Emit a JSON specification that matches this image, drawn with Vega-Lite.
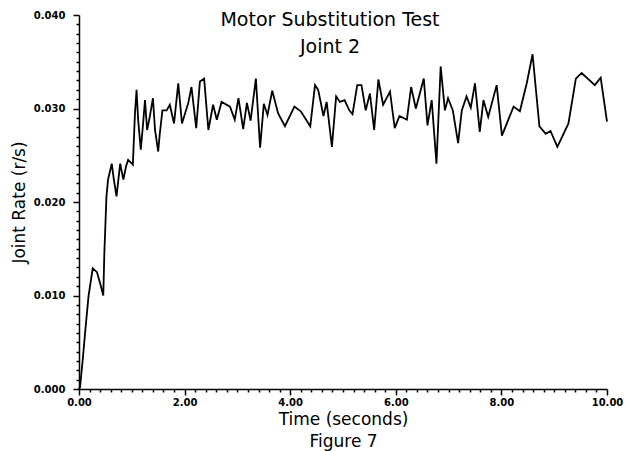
{
  "$schema": "https://vega.github.io/schema/vega-lite/v6.json",
  "width": 528,
  "height": 374,
  "autosize": "none",
  "padding": {"left": 79, "top": 15, "right": 23, "bottom": 62},
  "background": "white",
  "title": {
    "text": ["Motor Substitution Test", "Joint 2"],
    "font": "DejaVu Sans",
    "fontSize": 19,
    "fontWeight": "normal",
    "color": "black",
    "lineHeight": 27,
    "baseline": "alphabetic",
    "offset": -62,
    "dx": -13,
    "anchor": "middle"
  },
  "data": {
    "values": [
      {"t": 0.00, "v": 0.0000}, {"t": 0.02, "v": 0.0002}, {"t": 0.07, "v": 0.0031}, {"t": 0.12, "v": 0.0063},
      {"t": 0.18, "v": 0.0099}, {"t": 0.26, "v": 0.0129}, {"t": 0.34, "v": 0.0125}, {"t": 0.40, "v": 0.0113},
      {"t": 0.46, "v": 0.0100}, {"t": 0.48, "v": 0.0145}, {"t": 0.52, "v": 0.0206}, {"t": 0.55, "v": 0.0224},
      {"t": 0.62, "v": 0.0241}, {"t": 0.66, "v": 0.0224}, {"t": 0.71, "v": 0.0206}, {"t": 0.78, "v": 0.0241},
      {"t": 0.84, "v": 0.0224}, {"t": 0.89, "v": 0.0238}, {"t": 0.93, "v": 0.0245}, {"t": 1.02, "v": 0.0240},
      {"t": 1.06, "v": 0.0295}, {"t": 1.09, "v": 0.0320}, {"t": 1.12, "v": 0.0288}, {"t": 1.17, "v": 0.0256},
      {"t": 1.22, "v": 0.0288}, {"t": 1.25, "v": 0.0309}, {"t": 1.29, "v": 0.0277}, {"t": 1.34, "v": 0.0291},
      {"t": 1.40, "v": 0.0311}, {"t": 1.44, "v": 0.0277}, {"t": 1.50, "v": 0.0254}, {"t": 1.53, "v": 0.0273},
      {"t": 1.58, "v": 0.0298}, {"t": 1.66, "v": 0.0298}, {"t": 1.72, "v": 0.0304}, {"t": 1.80, "v": 0.0284},
      {"t": 1.88, "v": 0.0327}, {"t": 1.95, "v": 0.0284}, {"t": 2.07, "v": 0.0306}, {"t": 2.13, "v": 0.0323},
      {"t": 2.22, "v": 0.0279}, {"t": 2.29, "v": 0.0329}, {"t": 2.37, "v": 0.0332}, {"t": 2.45, "v": 0.0277},
      {"t": 2.54, "v": 0.0304}, {"t": 2.61, "v": 0.0288}, {"t": 2.70, "v": 0.0307}, {"t": 2.86, "v": 0.0302},
      {"t": 2.95, "v": 0.0288}, {"t": 3.02, "v": 0.0311}, {"t": 3.11, "v": 0.0278}, {"t": 3.18, "v": 0.0306},
      {"t": 3.25, "v": 0.0287}, {"t": 3.35, "v": 0.0332}, {"t": 3.43, "v": 0.0258}, {"t": 3.50, "v": 0.0305},
      {"t": 3.57, "v": 0.0293}, {"t": 3.66, "v": 0.0319}, {"t": 3.77, "v": 0.0295}, {"t": 3.90, "v": 0.0281},
      {"t": 4.08, "v": 0.0302}, {"t": 4.20, "v": 0.0297}, {"t": 4.38, "v": 0.0281}, {"t": 4.47, "v": 0.0325},
      {"t": 4.53, "v": 0.0320}, {"t": 4.63, "v": 0.0292}, {"t": 4.69, "v": 0.0307}, {"t": 4.79, "v": 0.0259},
      {"t": 4.87, "v": 0.0313}, {"t": 4.94, "v": 0.0307}, {"t": 5.03, "v": 0.0309}, {"t": 5.12, "v": 0.0298},
      {"t": 5.18, "v": 0.0294}, {"t": 5.27, "v": 0.0325}, {"t": 5.35, "v": 0.0325}, {"t": 5.43, "v": 0.0298},
      {"t": 5.51, "v": 0.0316}, {"t": 5.59, "v": 0.0277}, {"t": 5.67, "v": 0.0331}, {"t": 5.76, "v": 0.0304},
      {"t": 5.89, "v": 0.0318}, {"t": 5.98, "v": 0.0279}, {"t": 6.07, "v": 0.0292}, {"t": 6.21, "v": 0.0288},
      {"t": 6.29, "v": 0.0323}, {"t": 6.38, "v": 0.0300}, {"t": 6.53, "v": 0.0332}, {"t": 6.60, "v": 0.0282},
      {"t": 6.68, "v": 0.0309}, {"t": 6.77, "v": 0.0241}, {"t": 6.85, "v": 0.0345}, {"t": 6.93, "v": 0.0298},
      {"t": 6.99, "v": 0.0311}, {"t": 7.08, "v": 0.0298}, {"t": 7.18, "v": 0.0263}, {"t": 7.25, "v": 0.0298},
      {"t": 7.34, "v": 0.0313}, {"t": 7.42, "v": 0.0301}, {"t": 7.50, "v": 0.0327}, {"t": 7.59, "v": 0.0275},
      {"t": 7.66, "v": 0.0309}, {"t": 7.75, "v": 0.0291}, {"t": 7.91, "v": 0.0325}, {"t": 8.01, "v": 0.0271},
      {"t": 8.23, "v": 0.0302}, {"t": 8.35, "v": 0.0297}, {"t": 8.48, "v": 0.0327}, {"t": 8.59, "v": 0.0358},
      {"t": 8.72, "v": 0.0281}, {"t": 8.84, "v": 0.0273}, {"t": 8.93, "v": 0.0276}, {"t": 9.06, "v": 0.0259},
      {"t": 9.27, "v": 0.0284}, {"t": 9.41, "v": 0.0332}, {"t": 9.52, "v": 0.0338}, {"t": 9.77, "v": 0.0325},
      {"t": 9.88, "v": 0.0333}, {"t": 10.00, "v": 0.0286}
    ]
  },
  "mark": {"type": "line", "color": "black", "strokeWidth": 1.8, "interpolate": "linear"},
  "encoding": {
    "x": {
      "field": "t",
      "type": "quantitative",
      "scale": {"domain": [0, 10], "nice": false, "zero": false},
      "axis": {
        "title": ["Time (seconds)", "Figure 7"],
        "titleLineHeight": 22,
        "titlePadding": 4,
        "titleFontSize": 17,
        "values": [0, 0.2, 0.4, 0.6, 0.8, 1, 1.2, 1.4, 1.6, 1.8, 2, 2.2, 2.4, 2.6, 2.8, 3, 3.2, 3.4, 3.6, 3.8, 4, 4.2, 4.4, 4.6, 4.8, 5, 5.2, 5.4, 5.6, 5.8, 6, 6.2, 6.4, 6.6, 6.8, 7, 7.2, 7.4, 7.6, 7.8, 8, 8.2, 8.4, 8.6, 8.8, 9, 9.2, 9.4, 9.6, 9.8, 10],
        "labelExpr": "abs(datum.value - round(datum.value/2)*2) < 0.001 ? format(datum.value, '.2f') : ''",
        "tickSize": {"condition": {"test": "abs(datum.value - round(datum.value/2)*2) < 0.001", "value": 6}, "value": 3},
        "labelPadding": 2,
        "labelOverlap": false,
        "labelFlush": false
      }
    },
    "y": {
      "field": "v",
      "type": "quantitative",
      "scale": {"domain": [0, 0.04], "nice": false},
      "axis": {
        "title": "Joint Rate (r/s)",
        "titlePadding": 5,
        "titleFontSize": 17,
        "values": [0, 0.001, 0.002, 0.003, 0.004, 0.005, 0.006, 0.007, 0.008, 0.009, 0.01, 0.011, 0.012, 0.013, 0.014, 0.015, 0.016, 0.017, 0.018, 0.019, 0.02, 0.021, 0.022, 0.023, 0.024, 0.025, 0.026, 0.027, 0.028, 0.029, 0.03, 0.031, 0.032, 0.033, 0.034, 0.035, 0.036, 0.037, 0.038, 0.039, 0.04],
        "labelExpr": "abs(datum.value*100 - round(datum.value*100)) < 0.001 ? format(datum.value, '.3f') : ''",
        "tickSize": {"condition": {"test": "abs(datum.value*100 - round(datum.value*100)) < 0.001", "value": 6}, "value": 3},
        "labelPadding": 8,
        "labelOverlap": false,
        "labelFlush": false
      }
    }
  },
  "config": {
    "view": {"stroke": null},
    "axis": {
      "grid": false,
      "domainColor": "black",
      "domainWidth": 1.5,
      "tickColor": "black",
      "tickWidth": 1.5,
      "labelColor": "black",
      "labelFont": "DejaVu Sans",
      "labelFontWeight": "bold",
      "labelFontSize": 10,
      "titleColor": "black",
      "titleFont": "DejaVu Sans",
      "titleFontWeight": "normal",
      "titleFontSize": 16
    }
  }
}
